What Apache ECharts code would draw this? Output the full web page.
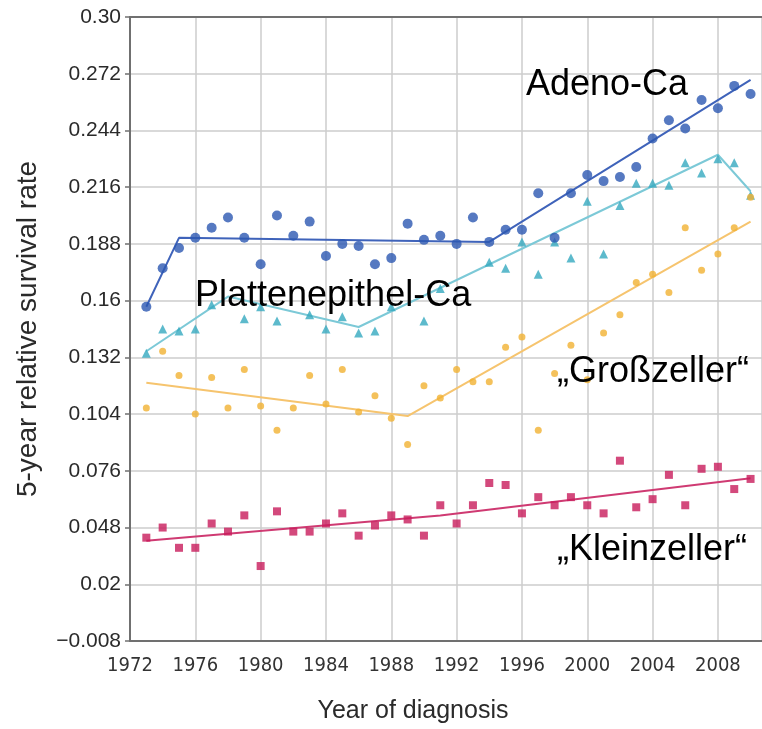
<!DOCTYPE html>
<html>
<head>
<meta charset="utf-8">
<title>5-year relative survival rate by histology</title>
<script src="https://cdn.jsdelivr.net/npm/echarts@6/dist/echarts.min.js"></script>
<style>
  html, body { margin: 0; padding: 0; background: #ffffff; }
  #chart { width: 762px; height: 729px; }
</style>
</head>
<body>
<div id="chart"></div>
<script>
// Year of diagnosis
const years = [1973, 1974, 1975, 1976, 1977, 1978, 1979, 1980, 1981, 1982,
               1983, 1984, 1985, 1986, 1987, 1988, 1989, 1990, 1991, 1992,
               1993, 1994, 1995, 1996, 1997, 1998, 1999, 2000, 2001, 2002,
               2003, 2004, 2005, 2006, 2007, 2008, 2009, 2010];

// Observed 5-year relative survival per histology (null = not shown)
const adenoCa = [0.157, 0.176, 0.186, 0.191, 0.196, 0.201, 0.191, 0.178, 0.202, 0.192,
                 0.199, 0.182, 0.188, 0.187, 0.178, 0.181, 0.198, 0.190, 0.192, 0.188,
                 0.201, 0.189, 0.195, 0.195, 0.213, 0.191, 0.213, 0.222, 0.219, 0.221,
                 0.226, 0.240, 0.249, 0.245, 0.259, 0.255, 0.266, 0.262];
const plattenCa = [0.134, 0.146, 0.145, 0.146, 0.158, null, 0.151, 0.157, 0.150, null,
                   0.153, 0.146, 0.152, 0.144, 0.145, 0.157, null, 0.150, 0.166, null,
                   null, 0.179, 0.176, 0.189, 0.173, 0.189, 0.181, 0.209, 0.183, 0.207,
                   0.218, 0.218, 0.217, 0.228, 0.223, 0.230, 0.228, 0.212];
const grossCa = [0.107, 0.135, 0.123, 0.104, 0.122, 0.107, 0.126, 0.108, 0.096, 0.107,
                 0.123, 0.109, 0.126, 0.105, 0.113, 0.102, 0.089, 0.118, 0.112, 0.126,
                 0.120, 0.120, 0.137, 0.142, 0.096, 0.124, 0.138, 0.121, 0.144, 0.153,
                 0.169, 0.173, 0.164, 0.196, 0.175, 0.183, 0.196, 0.211];
const kleinCa = [0.043, 0.048, 0.038, 0.038, 0.050, 0.046, 0.054, 0.029, 0.056, 0.046,
                 0.046, 0.050, 0.055, 0.044, 0.049, 0.054, 0.052, 0.044, 0.059, 0.050,
                 0.059, 0.070, 0.069, 0.055, 0.063, 0.059, 0.063, 0.059, 0.055, 0.081,
                 0.058, 0.062, 0.074, 0.059, 0.077, 0.078, 0.067, 0.072];

// Joinpoint trend segments (years and fitted values)
const adenoTrendYears = [1973, 1975, 1994, 2010];
const adenoTrend      = [0.157, 0.191, 0.189, 0.269];
const plattenTrendYears = [1973, 1978, 1986, 2008, 2010];
const plattenTrend      = [0.135, 0.162, 0.147, 0.232, 0.214];
const grossTrendYears = [1973, 1989, 2010];
const grossTrend      = [0.1195, 0.103, 0.199];
const kleinTrendYears = [1973, 1991, 2010];
const kleinTrend      = [0.0415, 0.054, 0.0723];

// Axis ticks
const yTickLabels = ['\u22120.008', '0.02', '0.048', '0.076', '0.104', '0.132',
                     '0.16', '0.188', '0.216', '0.244', '0.272', '0.30'];
const yMin = -0.008, yMax = 0.30, yStep = 0.028;
const xMin = 1972, xMax = 2010.7, xStep = 4;

const pairs = (xs, ys) => xs.map((x, i) => [x, ys[i]]);

const FONT = '"Liberation Sans", Arial, Helvetica, sans-serif';
const NARROW = '"Liberation Sans Narrow", "DejaVu Sans Condensed", "Liberation Sans", sans-serif';

const colors = {
  adeno:   { mark: '#2c58b2', line: '#3f63ba' },
  platten: { mark: '#35a9bf', line: '#7cc9d7' },
  gross:   { mark: '#f1b232', line: '#f6c46e' },
  klein:   { mark: '#c81b5b', line: '#cf3a72' }
};

const chart = echarts.init(document.getElementById('chart'), null, { renderer: 'canvas' });

const trendLine = (name, xs, ys, color, z) => ({
  name: name, type: 'line', data: pairs(xs, ys), symbol: 'none', z: z,
  lineStyle: { color: color, width: 2 }, silent: true
});
const dots = (name, ys, symbol, size, color, z) => ({
  name: name, type: 'scatter', data: pairs(years, ys).filter(p => p[1] !== null),
  symbol: symbol, symbolSize: size, z: z,
  itemStyle: { color: color }
});

chart.setOption({
  animation: false,
  backgroundColor: '#ffffff',
  grid: { left: 130, right: 0, top: 17, bottom: 82, containLabel: false },
  xAxis: [
    {
      type: 'value', min: xMin, max: xMax, interval: xStep,
      axisLine: { show: true, onZero: false, lineStyle: { color: '#707070', width: 2 } },
      axisTick: { show: false },
      axisLabel: {
        showMaxLabel: false, margin: 15, color: '#333333',
        fontFamily: NARROW, fontSize: 20,
        formatter: v => String(v)
      },
      splitLine: { show: true, lineStyle: { color: '#cccccc', width: 1.5 } },
      name: 'Year of diagnosis', nameLocation: 'middle', nameGap: 58,
      nameTextStyle: { fontFamily: FONT, fontSize: 25, color: '#2a2a2a', padding: [0, 66, 0, 0] }
    },
    {
      // top frame line of the plot area
      type: 'value', position: 'top', min: xMin, max: xMax, interval: xStep,
      axisLine: { show: true, onZero: false, lineStyle: { color: '#707070', width: 2 } },
      axisTick: { show: false }, axisLabel: { show: false }, splitLine: { show: false }
    }
  ],
  yAxis: {
    type: 'value', min: yMin, max: yMax, interval: yStep,
    axisLine: { show: true, onZero: false, lineStyle: { color: '#707070', width: 2 } },
    axisTick: { show: true, length: 5, lineStyle: { color: '#707070', width: 1.5 } },
    axisLabel: {
      margin: 9, color: '#2a2a2a', fontFamily: FONT, fontSize: 21,
      formatter: v => yTickLabels[Math.round((v - yMin) / yStep)]
    },
    splitLine: { show: true, lineStyle: { color: '#cccccc', width: 1.5 } },
    name: '5-year relative survival rate', nameLocation: 'middle', nameGap: 88,
    nameTextStyle: { fontFamily: FONT, fontSize: 28, color: '#2a2a2a' }
  },
  series: [
    trendLine('Plattenepithel-Ca trend', plattenTrendYears, plattenTrend, colors.platten.line, 2),
    dots('Plattenepithel-Ca', plattenCa, 'triangle', 9, colors.platten.mark, 3),
    trendLine('Großzeller trend', grossTrendYears, grossTrend, colors.gross.line, 2),
    dots('Großzeller', grossCa, 'circle', 7, colors.gross.mark, 4),
    trendLine('Adeno-Ca trend', adenoTrendYears, adenoTrend, colors.adeno.line, 5),
    dots('Adeno-Ca', adenoCa, 'circle', 10, colors.adeno.mark, 6),
    trendLine('Kleinzeller trend', kleinTrendYears, kleinTrend, colors.klein.line, 2),
    dots('Kleinzeller', kleinCa, 'rect', 8, colors.klein.mark, 3)
  ],
  graphic: [
    { type: 'text', left: 526, top: 67, z: 100,
      style: { text: 'Adeno-Ca', fontFamily: FONT, fontSize: 36, fill: '#000' } },
    { type: 'text', left: 195, top: 278, z: 100,
      style: { text: 'Plattenepithel-Ca', fontFamily: FONT, fontSize: 36, fill: '#000' } },
    { type: 'text', left: 557, top: 354, z: 100,
      style: { text: '\u201EGroßzeller\u201C', fontFamily: FONT, fontSize: 36, fill: '#000' } },
    { type: 'text', left: 557, top: 532, z: 100,
      style: { text: '\u201EKleinzeller\u201C', fontFamily: FONT, fontSize: 36, fill: '#000' } }
  ]
});
</script>
</body>
</html>
